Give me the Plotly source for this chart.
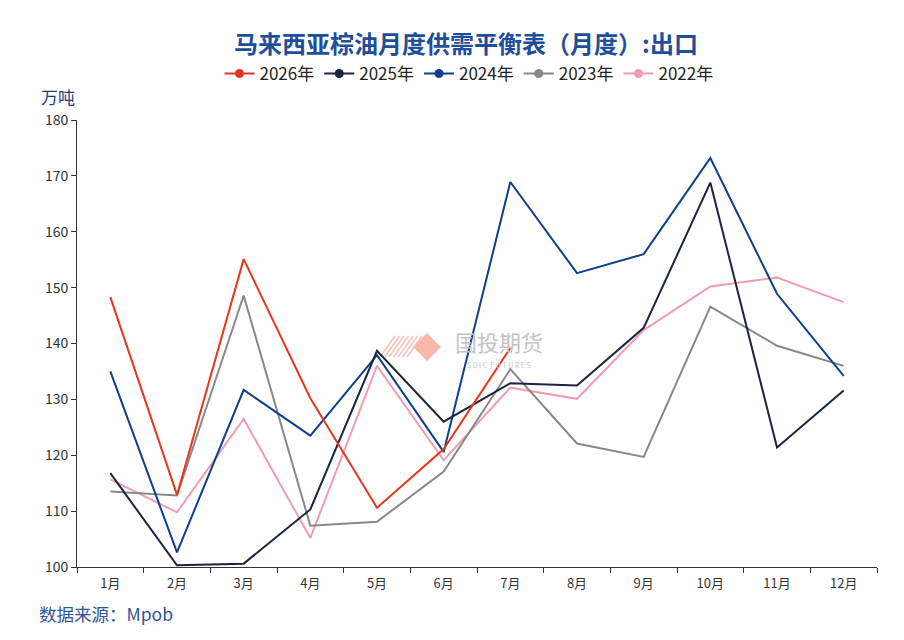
import plotly.graph_objects as go

months = ["1月", "2月", "3月", "4月", "5月", "6月", "7月", "8月", "9月", "10月", "11月", "12月"]

y2026 = [148.3, 112.9, 155.1, 130.2, 110.6, 121.1, 139.2]
y2025 = [116.8, 100.3, 100.6, 110.3, 138.7, 126.0, 132.9, 132.5, 142.8, 168.8, 121.4, 131.6]
y2024 = [135.0, 102.6, 131.7, 123.5, 137.9, 120.6, 168.9, 152.6, 156.0, 173.2, 148.9, 134.2]
y2023 = [113.5, 112.8, 148.6, 107.4, 108.1, 117.1, 135.4, 122.1, 119.7, 146.6, 139.6, 136.0]
y2022 = [115.7, 109.8, 126.5, 105.2, 136.0, 119.1, 132.1, 130.1, 142.4, 150.2, 151.8, 147.4]

series = [
    ("2026年", y2026, "#E8361E"),
    ("2025年", y2025, "#1B2340"),
    ("2024年", y2024, "#0D3F8F"),
    ("2023年", y2023, "#888888"),
    ("2022年", y2022, "#F29CB3"),
]

FONT = "Noto Sans CJK SC"
NAVY = "#1F4E9A"
OFF = 8  # page body margin offsets the figure in the browser

# plot area in screen pixels
L, R, T, B = 77, 877, 120, 567

fig = go.Figure()

# draw oldest first so 2026 sits on top
for name, vals, color in reversed(series):
    fig.add_trace(go.Scatter(
        x=months[:len(vals)], y=vals, mode="lines", name=name,
        line=dict(color=color, width=2), showlegend=False,
    ))

# legend entries: line with a dot
for name, vals, color in series:
    fig.add_trace(go.Scatter(
        x=[None], y=[None], mode="lines+markers", name=name,
        line=dict(color=color, width=2),
        marker=dict(color=color, size=9),
    ))


def px(x, y):
    # screen pixel -> paper coords
    return (x - L) / (R - L), (B - y) / (B - T)


cx, cy = 427, 347
pts = [px(cx - 14, cy), px(cx, cy - 14), px(cx + 14, cy), px(cx, cy + 14)]
path = "M {} {} L {} {} L {} {} L {} {} Z".format(*[v for p in pts for v in p])
shapes = [dict(type="path", xref="paper", yref="paper", path=path,
               fillcolor="#F7B8A8", line=dict(width=0), layer="below")]
for i in range(7):
    x0, y0 = px(380 + i * 4.5, 357)
    x1, y1 = px(395 + i * 4.5, 336)
    shapes.append(dict(type="line", xref="paper", yref="paper",
                       x0=x0, y0=y0, x1=x1, y1=y1,
                       line=dict(color="#F7C2B5", width=1.5), layer="below"))

wx, wy = px(499, 341)
sx, sy = px(499, 365)
lx, ly = px(58, 97)
fx, fy = px(37, 613)

fig.update_layout(
    width=904, height=640,
    margin=dict(l=L - OFF, r=904 - (R - OFF), t=T - OFF, b=640 - (B - OFF)),
    paper_bgcolor="white", plot_bgcolor="white",
    font=dict(family=FONT, size=13, color="#333333"),
    title=dict(text="<b>马来西亚棕油月度供需平衡表（月度）:出口</b>",
               x=(466 - OFF) / 904, xanchor="center", y=1 - (45 - OFF) / 640, yanchor="middle",
               font=dict(family=FONT, size=24, color=NAVY)),
    legend=dict(orientation="h", x=(469 - L) / (R - L), xanchor="center", y=(B - 74) / (B - T),
                yanchor="middle", font=dict(family=FONT, size=17, color="#222222"),
                itemwidth=30, tracegroupgap=0),
    xaxis=dict(type="category", categoryorder="array", categoryarray=months,
               range=[-0.5, 11.5], showline=True, linecolor="#333333", linewidth=1,
               ticks="outside", tickson="boundaries", ticklen=5, tickcolor="#333333",
               showgrid=False, zeroline=False, ticklabelstandoff=4,
               tickfont=dict(family=FONT, size=13, color="#333333")),
    yaxis=dict(range=[100, 180], dtick=10, showline=True, linecolor="#333333",
               linewidth=1, ticks="outside", ticklen=5, tickcolor="#333333",
               showgrid=False, zeroline=False,
               tickfont=dict(family=FONT, size=14, color="#333333")),
    shapes=shapes,
    annotations=[
        dict(text="国投期货", x=wx, y=wy, xref="paper", yref="paper", showarrow=False,
             font=dict(family=FONT, size=22, color="#C4C4C4")),
        dict(text="S D I C  F U T U R E S", x=sx, y=sy, xref="paper", yref="paper",
             showarrow=False, font=dict(family=FONT, size=7, color="#C8C8C8")),
        dict(text="万吨", x=lx, y=ly, xref="paper", yref="paper", showarrow=False,
             xanchor="center", yanchor="middle",
             font=dict(family=FONT, size=17, color="#1F3F7A")),
        dict(text="数据来源：Mpob", x=fx, y=fy, xref="paper", yref="paper", showarrow=False,
             xanchor="left", yanchor="middle",
             font=dict(family=FONT, size=17.5, color="#2E5597")),
    ],
)

fig.write_html("out.html")
